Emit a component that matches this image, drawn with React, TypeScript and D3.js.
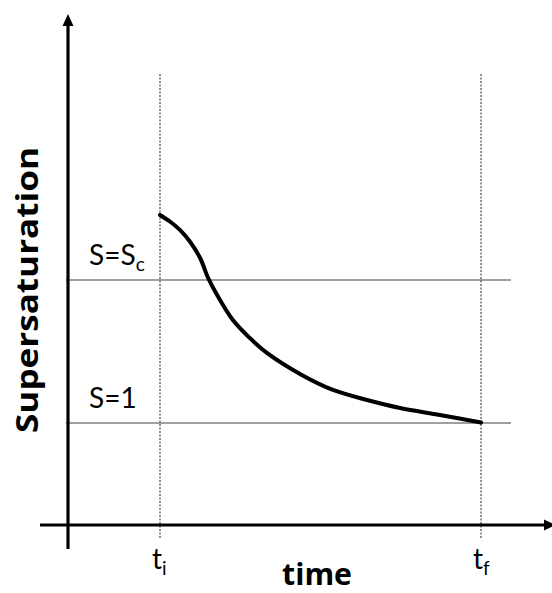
import React from "react";
import * as d3 from "d3";

// Curve data: normalized time (t_i = 0, t_f = 1) vs supersaturation S (S=1, S_c = 2)
const curveT = [0, 0.031, 0.062, 0.093, 0.125, 0.15, 0.178, 0.227, 0.28, 0.333, 0.436, 0.539, 0.645, 0.748, 0.872, 1.0];
const curveS = [2.455, 2.409, 2.35, 2.269, 2.154, 2.014, 1.895, 1.72, 1.594, 1.49, 1.343, 1.231, 1.161, 1.105, 1.056, 1.003];

const levelValues = [2, 1];
const levelLabels = ["S=S", "S=1"];
const levelSubs = ["c", ""];
const timeMarks = [0, 1];
const timeSubs = ["i", "f"];
const xTitle = "time";
const yTitle = "Supersaturation";

const W = 552;
const H = 593;

export default function App() {
  const x = d3.scaleLinear().domain([0, 1]).range([160, 481]);
  const y = d3.scaleLinear().domain([1, 2]).range([423, 280]);

  const axisX = 68;
  const axisY = 525;

  const pts: [number, number][] = curveT.map((t, i) => [x(t), y(curveS[i])]);
  const line = d3.line<[number, number]>().x((d) => d[0]).y((d) => d[1]).curve(d3.curveCatmullRom.alpha(0.5));

  const font = "Lato, 'Open Sans', sans-serif";
  const boldFont = "'Open Sans', Lato, sans-serif";

  return (
    <svg width={W} height={H} style={{ position: "absolute", left: 0, top: 0, background: "#fff" }}>
      {/* horizontal level lines */}
      {levelValues.map((v, i) => (
        <g key={"lv" + i}>
          <line x1={66} x2={511} y1={y(v)} y2={y(v)} stroke="#7f7f7f" strokeWidth={1.5} />
          <text x={89} y={y(v) - 15} fontFamily={font} fontSize={28} fill="#000">
            {levelLabels[i]}
            {levelSubs[i] && (
              <tspan fontSize={19} dy={6}>{levelSubs[i]}</tspan>
            )}
          </text>
        </g>
      ))}

      {/* vertical dashed lines at t_i and t_f */}
      {timeMarks.map((t, i) => (
        <g key={"tm" + i}>
          <line x1={x(t)} x2={x(t)} y1={74} y2={538} stroke="#222" strokeWidth={1} strokeDasharray="2,1.5" />
          <text x={x(t) - 8} y={569} fontFamily={font} fontSize={28} fill="#000">
            t<tspan fontSize={19} dy={6}>{timeSubs[i]}</tspan>
          </text>
        </g>
      ))}

      {/* curve */}
      <path d={line(pts) || ""} fill="none" stroke="#000" strokeWidth={4} strokeLinecap="round" />

      {/* axes */}
      <line x1={axisX} x2={axisX} y1={22} y2={549} stroke="#000" strokeWidth={3.2} />
      <polygon points={`${axisX - 5.5},26 ${axisX + 5.5},26 ${axisX},14`} fill="#000" />
      <line x1={40} x2={545} y1={axisY} y2={axisY} stroke="#000" strokeWidth={3.2} />
      <polygon points={`544,${axisY - 5.5} 544,${axisY + 5.5} 556,${axisY}`} fill="#000" />

      {/* axis titles */}
      <text
        x={317}
        y={585}
        textAnchor="middle"
        fontFamily={boldFont}
        fontWeight="bold"
        fontSize={30}
        textLength={70}
        lengthAdjust="spacingAndGlyphs"
        fill="#000"
      >
        {xTitle}
      </text>
      <text
        transform={`translate(38,290) rotate(-90)`}
        textAnchor="middle"
        fontFamily={boldFont}
        fontWeight="bold"
        fontSize={31}
        textLength={286}
        lengthAdjust="spacingAndGlyphs"
        fill="#000"
      >
        {yTitle}
      </text>
    </svg>
  );
}
